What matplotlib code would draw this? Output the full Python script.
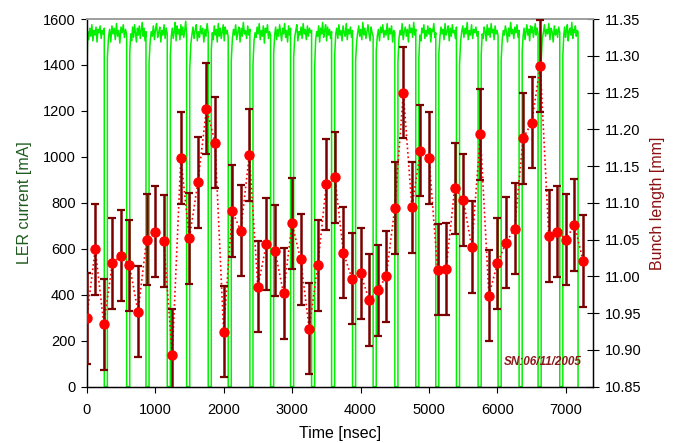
import numpy as np
import matplotlib
matplotlib.use("Agg")
import matplotlib.pyplot as plt
from matplotlib.ticker import FormatStrFormatter

plt.rcParams['font.family'] = ['Liberation Sans', 'DejaVu Sans']

# ---------------- data ----------------
# Bunch-length measurements (right axis)
time_points = [0, 125, 250, 375, 500, 625, 750, 875, 1000, 1125,
               1250, 1375, 1500, 1625, 1750, 1875, 2000, 2125, 2250, 2375,
               2500, 2625, 2750, 2875, 3000, 3125, 3250, 3375, 3500, 3625,
               3750, 3875, 4000, 4125, 4250, 4375, 4500, 4625, 4750, 4875,
               5000, 5125, 5250, 5375, 5500, 5625, 5750, 5875, 6000, 6125,
               6250, 6375, 6500, 6625, 6750, 6875, 7000, 7125, 7250]
bunch_length = [10.943, 11.037, 10.935, 11.018, 11.028, 11.015, 10.952, 11.050, 11.061, 11.048,
                10.893, 11.161, 11.052, 11.128, 11.228, 11.182, 10.925, 11.089, 11.062, 11.165,
                10.986, 11.044, 11.035, 10.977, 11.072, 11.023, 10.929, 11.015, 11.125, 11.135,
                11.032, 10.997, 11.004, 10.968, 10.981, 11.000, 11.093, 11.250, 11.094, 11.171,
                11.161, 11.009, 11.010, 11.120, 11.104, 11.040, 11.193, 10.974, 11.018, 11.046,
                11.065, 11.188, 11.209, 11.286, 11.055, 11.061, 11.050, 11.070, 11.021]
bunch_err = 0.062

# LER current trace (left axis): times where the current drops to zero,
# width of each gap, and the sampled level inside each filled segment
gap_starts = [257, 584, 866, 1177, 1460, 1775, 2067, 2384, 2686, 2978, 3285, 3577,
              3883, 4184, 4501, 4807, 5099, 5401, 5717, 6009, 6316, 6593, 6910, 7177]
gap_width = 45
segment_levels = [
    [1320, 1545, 1510, 1560, 1525, 1575, 1505, 1550, 1530, 1565, 1500, 1555, 1540, 1570, 1515, 1550, 1535, 1560],
    [1430, 1520, 1555, 1500, 1570, 1535, 1560, 1510, 1580, 1525, 1550, 1495, 1565, 1540, 1575, 1520, 1555, 1530],
    [1450, 1535, 1505, 1565, 1520, 1575, 1540, 1500, 1560, 1530, 1570, 1515, 1550, 1585, 1525, 1560, 1505, 1545],
    [1410, 1500, 1545, 1525, 1570, 1510, 1555, 1580, 1520, 1540, 1565, 1500, 1550, 1530, 1575, 1515, 1560, 1535],
    [1440, 1525, 1560, 1515, 1545, 1585, 1505, 1570, 1535, 1555, 1510, 1575, 1530, 1565, 1520, 1550, 1590, 1530],
    [1380, 1490, 1530, 1565, 1515, 1550, 1575, 1505, 1545, 1520, 1570, 1535, 1560, 1500, 1555, 1525, 1580, 1540],
    [1460, 1540, 1510, 1570, 1530, 1555, 1500, 1580, 1525, 1560, 1515, 1545, 1575, 1505, 1565, 1535, 1550, 1520],
    [1420, 1515, 1555, 1530, 1575, 1510, 1545, 1565, 1500, 1560, 1525, 1585, 1535, 1550, 1515, 1570, 1530, 1555],
    [1400, 1505, 1540, 1520, 1565, 1535, 1580, 1510, 1550, 1525, 1570, 1495, 1560, 1540, 1575, 1515, 1545, 1530],
    [1450, 1530, 1565, 1510, 1555, 1525, 1575, 1540, 1505, 1560, 1535, 1580, 1520, 1550, 1500, 1570, 1530, 1560],
    [1430, 1520, 1550, 1575, 1505, 1545, 1530, 1565, 1515, 1580, 1535, 1555, 1510, 1570, 1525, 1560, 1540, 1550],
    [1390, 1510, 1545, 1525, 1570, 1500, 1560, 1535, 1585, 1520, 1550, 1575, 1505, 1565, 1530, 1555, 1515, 1545],
    [1440, 1535, 1560, 1515, 1575, 1530, 1550, 1505, 1570, 1540, 1525, 1580, 1510, 1555, 1535, 1565, 1520, 1550],
    [1420, 1500, 1540, 1570, 1525, 1555, 1510, 1585, 1530, 1560, 1515, 1545, 1575, 1535, 1505, 1565, 1540, 1525],
    [1460, 1525, 1555, 1505, 1565, 1540, 1575, 1520, 1550, 1530, 1580, 1510, 1560, 1535, 1570, 1500, 1550, 1540],
    [1410, 1515, 1550, 1530, 1580, 1510, 1545, 1565, 1525, 1555, 1500, 1575, 1540, 1560, 1520, 1585, 1530, 1555],
    [1430, 1530, 1505, 1560, 1540, 1575, 1515, 1550, 1525, 1570, 1535, 1560, 1500, 1555, 1545, 1580, 1520, 1540],
    [1450, 1520, 1565, 1535, 1555, 1510, 1580, 1530, 1545, 1570, 1505, 1560, 1525, 1575, 1540, 1550, 1515, 1565],
    [1400, 1505, 1545, 1570, 1520, 1560, 1535, 1585, 1510, 1550, 1530, 1575, 1515, 1555, 1540, 1565, 1525, 1545],
    [1440, 1535, 1515, 1565, 1545, 1505, 1575, 1530, 1560, 1520, 1580, 1540, 1555, 1510, 1570, 1535, 1550, 1525],
    [1420, 1510, 1550, 1530, 1570, 1545, 1500, 1560, 1525, 1585, 1535, 1555, 1515, 1565, 1540, 1575, 1520, 1550],
    [1460, 1525, 1560, 1510, 1545, 1575, 1530, 1555, 1505, 1570, 1540, 1565, 1520, 1550, 1580, 1530, 1560, 1535],
    [1410, 1515, 1540, 1575, 1525, 1555, 1535, 1580, 1510, 1560, 1545, 1500, 1570, 1530, 1555, 1520, 1565, 1540],
    [1440, 1530, 1565, 1520, 1550, 1575, 1505, 1545, 1560, 1530, 1585, 1515, 1555, 1540, 1570, 1525, 1550, 1545],
]

x_ticks = [0, 1000, 2000, 3000, 4000, 5000, 6000, 7000]
left_ticks = [0, 200, 400, 600, 800, 1000, 1200, 1400, 1600]
right_ticks = [10.85, 10.90, 10.95, 11.00, 11.05, 11.10, 11.15, 11.20, 11.25, 11.30, 11.35]

# ---------------- build current trace ----------------
cur_t, cur_v = [], []
seg_start = 0
for g, levels in zip(gap_starts, segment_levels):
    ts = np.linspace(seg_start, g, len(levels))
    cur_t.extend(ts)
    cur_v.extend(levels)
    cur_t.extend([g, g + gap_width])
    cur_v.extend([0, 0])
    seg_start = g + gap_width
cur_t = cur_t[:-1]
cur_v = cur_v[:-1]

# ---------------- figure ----------------
fig = plt.figure(figsize=(6.73, 4.43), dpi=100)
ax = fig.add_axes([0.1288, 0.1271, 0.7528, 0.8300])
ax2 = ax.twinx()

ax.plot(cur_t, cur_v, color='#00f000', lw=1.1, zorder=2)
ax.set_xlim(0, 7400)
ax.set_ylim(0, 1600)
ax.set_xticks(x_ticks)
ax.set_yticks(left_ticks)

ax2.plot(time_points, bunch_length, linestyle=':', color='#ff0000', lw=1.2, zorder=2)
ax2.errorbar(time_points, bunch_length, yerr=bunch_err, fmt='none',
             ecolor='#7a0000', elinewidth=1.8, capsize=3, capthick=1.6, zorder=3)
ax2.plot(time_points, bunch_length, 'o', color='#ff0000', ms=6.5, mec='#ff0000', zorder=4)
ax2.set_ylim(10.85, 11.35)
ax2.set_yticks(right_ticks)
ax2.yaxis.set_major_formatter(FormatStrFormatter('%.2f'))

for a in (ax, ax2):
    a.spines['top'].set_color('#a0a0a0')
    a.spines['top'].set_linewidth(1.3)
    for s in ('left', 'right', 'bottom'):
        a.spines[s].set_color('black')
        a.spines[s].set_linewidth(0.9)

ax.tick_params(axis='x', direction='out', length=4, width=0.8, labelsize=10.5, pad=8)
ax.tick_params(axis='y', direction='out', length=4, width=0.8, labelsize=10.5, pad=4)
ax2.tick_params(axis='y', direction='inout', length=8, width=0.8, labelsize=10.5, pad=4)

ax.set_xlabel('Time [nsec]', fontsize=11.5, labelpad=6)
ax.set_ylabel('LER current [mA]', fontsize=11.5, color='#1f5a1f', labelpad=8)
ax2.set_ylabel('Bunch length [mm]', fontsize=11.5, color='#8b1010', labelpad=6)

ax2.text(0.977, 0.068, 'SN:06/11/2005', transform=ax2.transAxes, ha='right', va='center',
         fontsize=8.5, fontweight='bold', fontstyle='italic', color='#8b1a1a')

fig.savefig('out.png', dpi=100)
